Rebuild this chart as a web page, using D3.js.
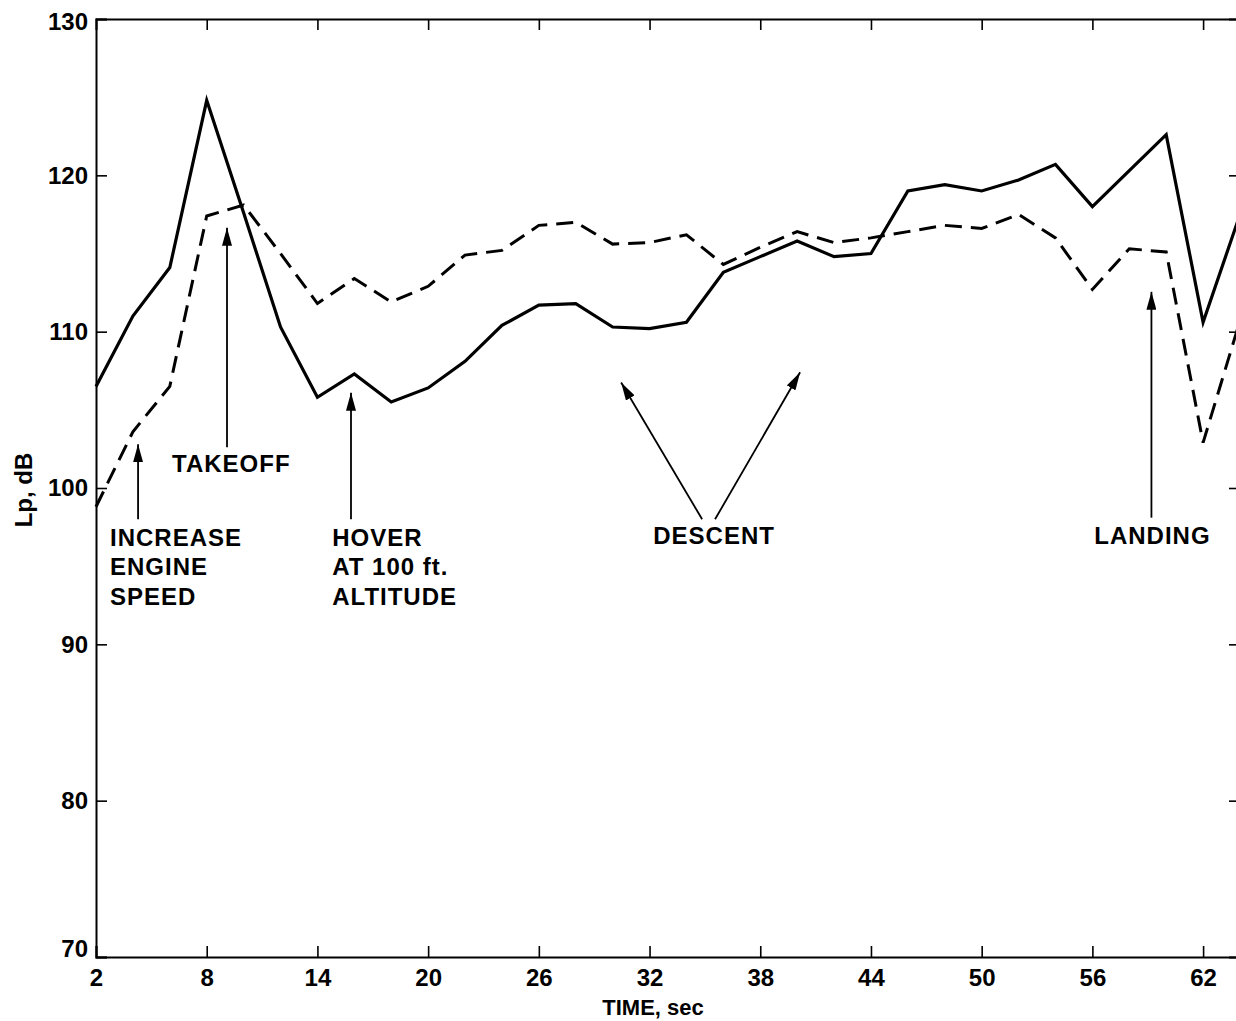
<!DOCTYPE html>
<html>
<head>
<meta charset="utf-8">
<script src="https://cdn.jsdelivr.net/npm/d3@7"></script>
<style>
  body { margin: 0; background: #fff; }
  svg { display: block; }
  text { font-family: Helvetica, Arial, "Liberation Sans", sans-serif; fill: #000; }
</style>
</head>
<body>
<div id="chart"></div>
<script>

/////////////////////////////////////////////////////////////////////////////
                      ///////    Data    ///////
/////////////////////////////////////////////////////////////////////////////

var time = [2, 4, 6, 8, 10, 12, 14, 16, 18, 20, 22, 24, 26, 28, 30, 32,
            34, 36, 38, 40, 42, 44, 46, 48, 50, 52, 54, 56, 58, 60, 62, 64];

var solidLp = [106.5, 111.0, 114.1, 124.8, 117.6, 110.3, 105.8, 107.3, 105.5, 106.4, 108.1, 110.4,
               111.7, 111.8, 110.3, 110.2, 110.6, 113.8, 114.8, 115.8, 114.8, 115.0, 119.0, 119.4,
               119.0, 119.7, 120.7, 118.0, 120.3, 122.6, 110.6, 117.5];

var dashedLp = [98.8, 103.6, 106.5, 117.4, 118.1, 115.0, 111.8, 113.4, 111.9, 112.9, 114.9, 115.2,
                116.8, 117.0, 115.6, 115.7, 116.2, 114.3, 115.4, 116.4, 115.7, 116.0, 116.4, 116.8,
                116.6, 117.5, 116.0, 112.7, 115.3, 115.1, 102.9, 110.7];

var xTicks = [2, 8, 14, 20, 26, 32, 38, 44, 50, 56, 62];
var yTicks = [70, 80, 90, 100, 110, 120, 130];

// annotation arrows in data units: [t0, v0] tail -> [t1, v1] tip
var notes = [
  {lines: ["INCREASE", "ENGINE", "SPEED"], at: [2.76, 96.3], arrows: [[[4.28, 98.0], [4.28, 102.8]]]},
  {lines: ["TAKEOFF"], at: [6.12, 101.0], arrows: [[[9.1, 102.6], [9.1, 116.65]]]},
  {lines: ["HOVER", "AT 100 ft.", "ALTITUDE"], at: [14.8, 96.3], arrows: [[[15.82, 98.0], [15.82, 106.1]]]},
  {lines: ["DESCENT"], at: [32.2, 96.4], arrows: [[[34.85, 98.0], [30.46, 106.75]], [[35.55, 98.0], [40.16, 107.4]]]},
  {lines: ["LANDING"], at: [56.1, 96.4], arrows: [[[59.2, 98.1], [59.2, 112.55]]]}
];

/////////////////////////////////////////////////////////////////////////////
                      ///////    Setup    ///////
/////////////////////////////////////////////////////////////////////////////

var w = 1236, h = 1021;
var plotLeft = 96, plotTop = 19, plotRight = 1240, plotBottom = 957;

var svg = d3.select("#chart").append("svg").attr("width", w).attr("height", h);
var g = svg.append("g");

var x = d3.scaleLinear().domain([2, 64]).range([plotLeft, plotRight]);
var y = d3.scaleLinear().domain([70, 130]).range([plotBottom, plotTop]);

var tickLen = 11;

/////////////////////////////////////////////////////////////////////////////
                      ///////    Axes    ///////
/////////////////////////////////////////////////////////////////////////////

var axisBottom = d3.axisBottom(x).tickValues(xTicks).tickSize(-tickLen).tickPadding(12).tickFormat(d3.format("d"));
var axisTop = d3.axisTop(x).tickValues(xTicks.slice(1)).tickSize(-tickLen).tickFormat("");
var axisLeft = d3.axisLeft(y).tickValues(yTicks).tickSize(-tickLen).tickPadding(8).tickFormat(d3.format("d"));
var axisRight = d3.axisRight(y).tickValues(yTicks.slice(1, -1)).tickSize(-tickLen).tickFormat("");

function styleAxis(sel) {
  sel.selectAll(".domain").attr("stroke", "#000").attr("stroke-width", 2);
  sel.selectAll(".tick line").attr("stroke", "#000").attr("stroke-width", 1.6);
  sel.selectAll(".tick text")
     .style("font-size", "24px").style("font-weight", "bold")
     .style("font-family", "Helvetica, Arial, 'Liberation Sans', sans-serif").attr("fill", "#000");
}

g.append("g").attr("transform", "translate(0," + plotBottom + ")").call(axisBottom).call(styleAxis);
g.append("g").attr("transform", "translate(0," + plotTop + ")").call(axisTop).call(styleAxis);
var yAxisG = g.append("g").attr("transform", "translate(" + plotLeft + ",0)").call(axisLeft).call(styleAxis);
g.append("g").attr("transform", "translate(" + plotRight + ",0)").call(axisRight).call(styleAxis);

// bottom y label sits a little above its tick, top one a little below
yAxisG.selectAll(".tick text").attr("dy", function(d) { return d === 70 ? "-0.02em" : (d === 130 ? "0.45em" : "0.32em"); });

g.append("text")
  .attr("x", 653).attr("y", 1015)
  .attr("text-anchor", "middle")
  .style("font-size", "22px").style("font-weight", "bold")
  .text("TIME, sec");

g.append("text")
  .attr("transform", "translate(32,490) rotate(-90)")
  .attr("text-anchor", "middle")
  .style("font-size", "24px").style("font-weight", "bold")
  .text("Lp, dB");

/////////////////////////////////////////////////////////////////////////////
                      ///////    Lines    ///////
/////////////////////////////////////////////////////////////////////////////

var line = d3.line().x(function(d) { return x(d[0]); }).y(function(d) { return y(d[1]); });

g.append("path")
  .datum(d3.zip(time, dashedLp))
  .attr("d", line)
  .attr("fill", "none").attr("stroke", "#000").attr("stroke-width", 3)
  .attr("stroke-dasharray", "17,9")
  .attr("stroke-linejoin", "miter");

g.append("path")
  .datum(d3.zip(time, solidLp))
  .attr("d", line)
  .attr("fill", "none").attr("stroke", "#000").attr("stroke-width", 3.2)
  .attr("stroke-linejoin", "miter");

/////////////////////////////////////////////////////////////////////////////
                      ///////    Annotations    ///////
/////////////////////////////////////////////////////////////////////////////

svg.append("defs").append("marker")
  .attr("id", "head").attr("viewBox", "0 0 18 10")
  .attr("refX", 18).attr("refY", 5)
  .attr("markerWidth", 18).attr("markerHeight", 10)
  .attr("markerUnits", "userSpaceOnUse")
  .attr("orient", "auto")
  .append("path").attr("d", "M0,0 L18,5 L0,10 Z").attr("fill", "#000");

notes.forEach(function(n) {
  n.arrows.forEach(function(a) {
    g.append("line")
      .attr("x1", x(a[0][0])).attr("y1", y(a[0][1]))
      .attr("x2", x(a[1][0])).attr("y2", y(a[1][1]))
      .attr("stroke", "#000").attr("stroke-width", 1.8)
      .attr("marker-end", "url(#head)");
  });

  var t = g.append("text")
    .attr("x", x(n.at[0])).attr("y", y(n.at[1]))
    .style("font-size", "24px").style("font-weight", "bold")
    .style("letter-spacing", "1px");
  t.selectAll("tspan").data(n.lines).enter().append("tspan")
    .attr("x", x(n.at[0]))
    .attr("dy", function(d, i) { return i === 0 ? 0 : 29.5; })
    .text(function(d) { return d; });
});

</script>
</body>
</html>
